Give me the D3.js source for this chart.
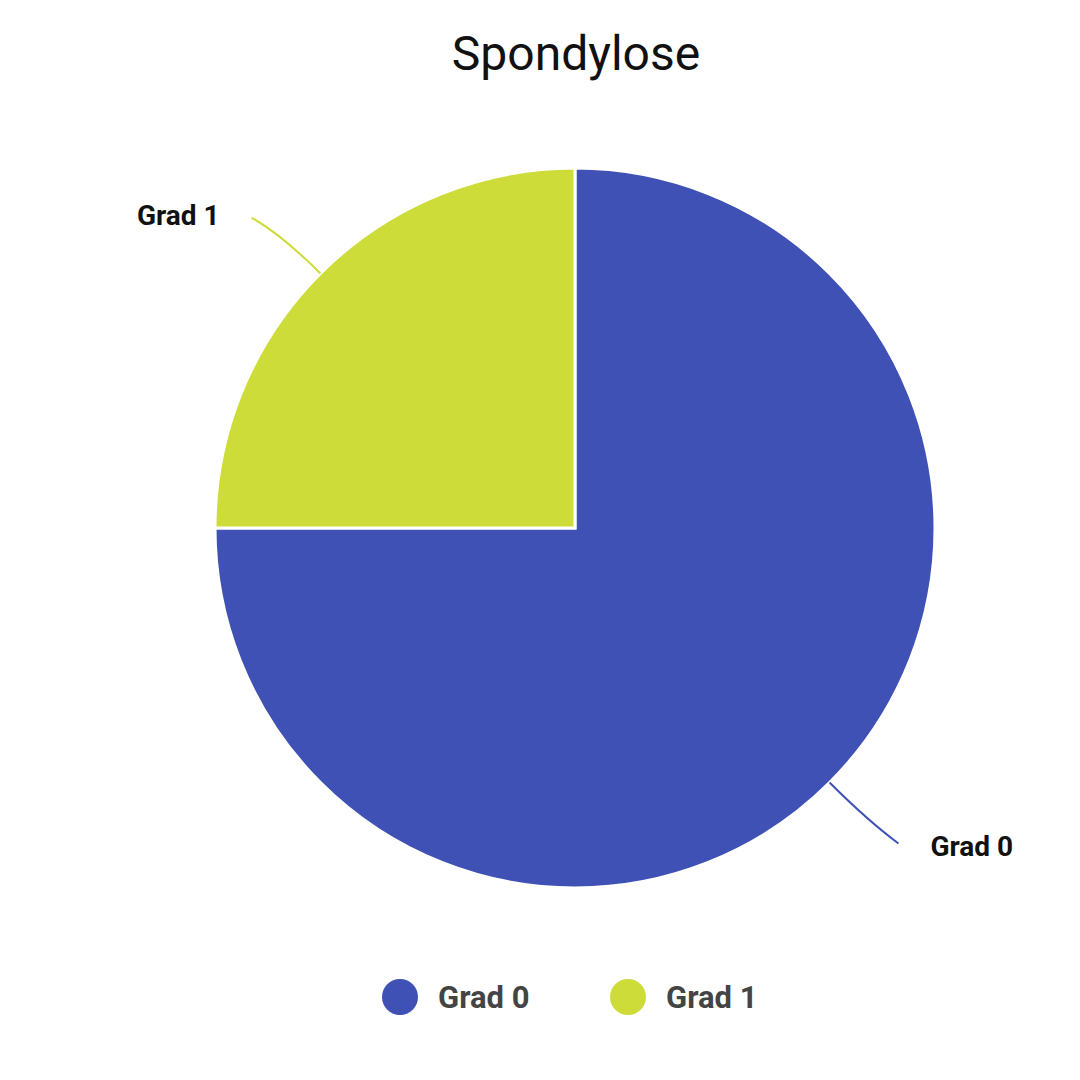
<!DOCTYPE html>
<html>
<head>
<meta charset="utf-8">
<script src="https://cdn.jsdelivr.net/npm/d3@7"></script>
<style>
  body { margin: 0; background: #fff; }
  svg { font-family: Roboto, sans-serif; }
</style>
</head>
<body>
<div id="chart"></div>
<script>
const categories = ["Grad 0", "Grad 1"];
const values = [75, 25];
const colors = ["#3f51b5", "#cddc39"];

const W = 1080, H = 1080;
const cx = 575, cy = 528, R = 360;

const svg = d3.select("#chart").append("svg")
	.attr("width", W)
	.attr("height", H);

svg.append("text")
	.attr("x", 576).attr("y", 70)
	.attr("text-anchor", "middle")
	.attr("font-size", 48)
	.attr("fill", "#111")
	.text("Spondylose");

const data = categories.map((c, i) => ({ name: c, value: values[i], color: colors[i] }));
const pie = d3.pie().sort(null).value(d => d.value);
const arc = d3.arc().innerRadius(0).outerRadius(R);
const arcs = pie(data);

const g = svg.append("g").attr("transform", "translate(" + cx + "," + cy + ")");

g.selectAll("path.slice")
	.data(arcs)
	.enter().append("path")
	.attr("class", "slice")
	.attr("d", arc)
	.attr("fill", d => d.data.color)
	.attr("stroke", "#fff")
	.attr("stroke-width", 3);

// leader lines + labels
arcs.forEach(a => {
	const mid = (a.startAngle + a.endAngle) / 2;
	const sx = Math.sin(mid) * R, sy = -Math.cos(mid) * R;
	const ex = Math.sin(mid) * (R + 55), ey = -Math.cos(mid) * (R + 55);
	const right = sx > 0;
	const tx = ex + (right ? 30 : -30), ty = ey + (right ? 25 : -20);
	g.append("path")
		.attr("d", "M" + sx + "," + sy + " Q" + ex + "," + ey + " " + tx + "," + (ty - (right ? 3 : -3)))
		.attr("fill", "none")
		.attr("stroke", a.data.color)
		.attr("stroke-width", 2);
	g.append("text")
		.attr("x", tx + (right ? 32 : -32))
		.attr("y", ty + 10)
		.attr("text-anchor", right ? "start" : "end")
		.attr("font-size", 28)
		.attr("font-weight", "bold")
		.attr("fill", "#111")
		.text(a.data.name);
});

// legend
const legendX = d3.scalePoint().domain(categories).range([400, 628]);
const lg = svg.append("g").selectAll("g")
	.data(data)
	.enter().append("g")
	.attr("transform", d => "translate(" + legendX(d.name) + ",997)");
lg.append("circle").attr("r", 18).attr("fill", d => d.color);
lg.append("text")
	.attr("x", 38).attr("y", 11)
	.attr("font-size", 31)
	.attr("font-weight", "bold")
	.attr("fill", "#444")
	.text(d => d.name);
</script>
</body>
</html>
